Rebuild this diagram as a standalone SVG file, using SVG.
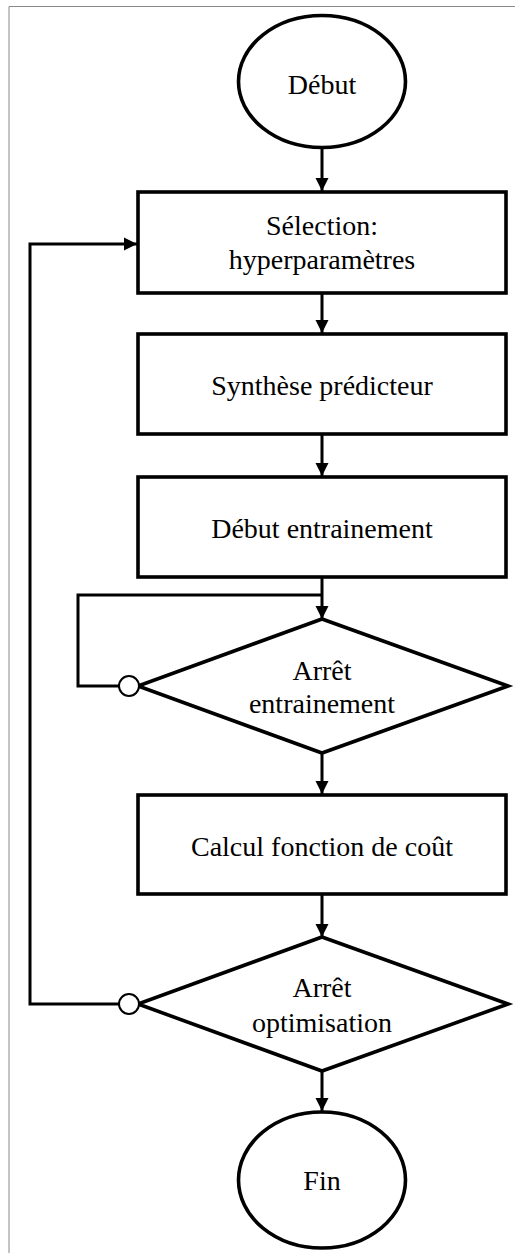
<svg xmlns="http://www.w3.org/2000/svg" width="515" height="1253" viewBox="0 0 515 1253">
<style>
.n{fill:#fff;stroke:#000;stroke-width:3.6}
.t{font-family:"Liberation Serif","Times New Roman",serif;font-size:28px;fill:#000;text-anchor:middle}
.c{fill:none;stroke:#000;stroke-width:3}
.o{fill:#fff;stroke:#000;stroke-width:2}
</style>
<defs>
<marker id="a" markerUnits="userSpaceOnUse" markerWidth="14" markerHeight="14" viewBox="0 0 14 14" refX="13" refY="7" orient="auto">
<path d="M0,0.5 L13,7 L0,13.5 Z" fill="#000"/>
</marker>
</defs>
<rect width="515" height="1253" fill="#fff"/>
<path d="M9,1253 V6.5 H515" fill="none" stroke="#888" stroke-width="1"/>
<g id="connectors">
<path class="c" d="M322,148 V191" marker-end="url(#a)"/>
<path class="c" d="M322,293 V333" marker-end="url(#a)"/>
<path class="c" d="M322,434 V476" marker-end="url(#a)"/>
<path class="c" d="M322,577 V619" marker-end="url(#a)"/>
<path class="c" d="M322,595 H78 V686 H119"/>
<path class="c" d="M322,753 V794" marker-end="url(#a)"/>
<path class="c" d="M322,894 V937" marker-end="url(#a)"/>
<path class="c" d="M119,1004 H30 V244 H137" marker-end="url(#a)"/>
<path class="c" d="M322,1071 V1111" marker-end="url(#a)"/>
</g>
<g id="debut">
<ellipse class="n" cx="322" cy="81.5" rx="83.5" ry="66"/>
<text class="t" x="322" y="94">Début</text>
</g>
<g id="selection">
<rect class="n" x="138" y="192" width="368" height="101"/>
<text class="t" x="322" y="235">Sélection:</text>
<text class="t" x="322" y="269">hyperparamètres</text>
</g>
<g id="synthese">
<rect class="n" x="138" y="334" width="368" height="100"/>
<text class="t" x="322" y="395">Synthèse prédicteur</text>
</g>
<g id="debut-entrainement">
<rect class="n" x="138" y="477" width="368" height="100"/>
<text class="t" x="322" y="538">Début entrainement</text>
</g>
<g id="arret-entrainement">
<polygon class="n" points="322,619 508,686 322,753 138,686"/>
<text class="t" x="322" y="680">Arrêt</text>
<text class="t" x="322" y="713">entrainement</text>
<circle class="o" cx="129" cy="686" r="10"/>
</g>
<g id="calcul">
<rect class="n" x="138" y="795" width="368" height="99"/>
<text class="t" x="322" y="856">Calcul fonction de coût</text>
</g>
<g id="arret-optimisation">
<polygon class="n" points="322,937 508,1004 322,1071 138,1004"/>
<text class="t" x="322" y="997">Arrêt</text>
<text class="t" x="322" y="1032">optimisation</text>
<circle class="o" cx="129" cy="1004" r="10"/>
</g>
<g id="fin">
<ellipse class="n" cx="322" cy="1180" rx="83.5" ry="68"/>
<text class="t" x="322" y="1190">Fin</text>
</g>
</svg>
